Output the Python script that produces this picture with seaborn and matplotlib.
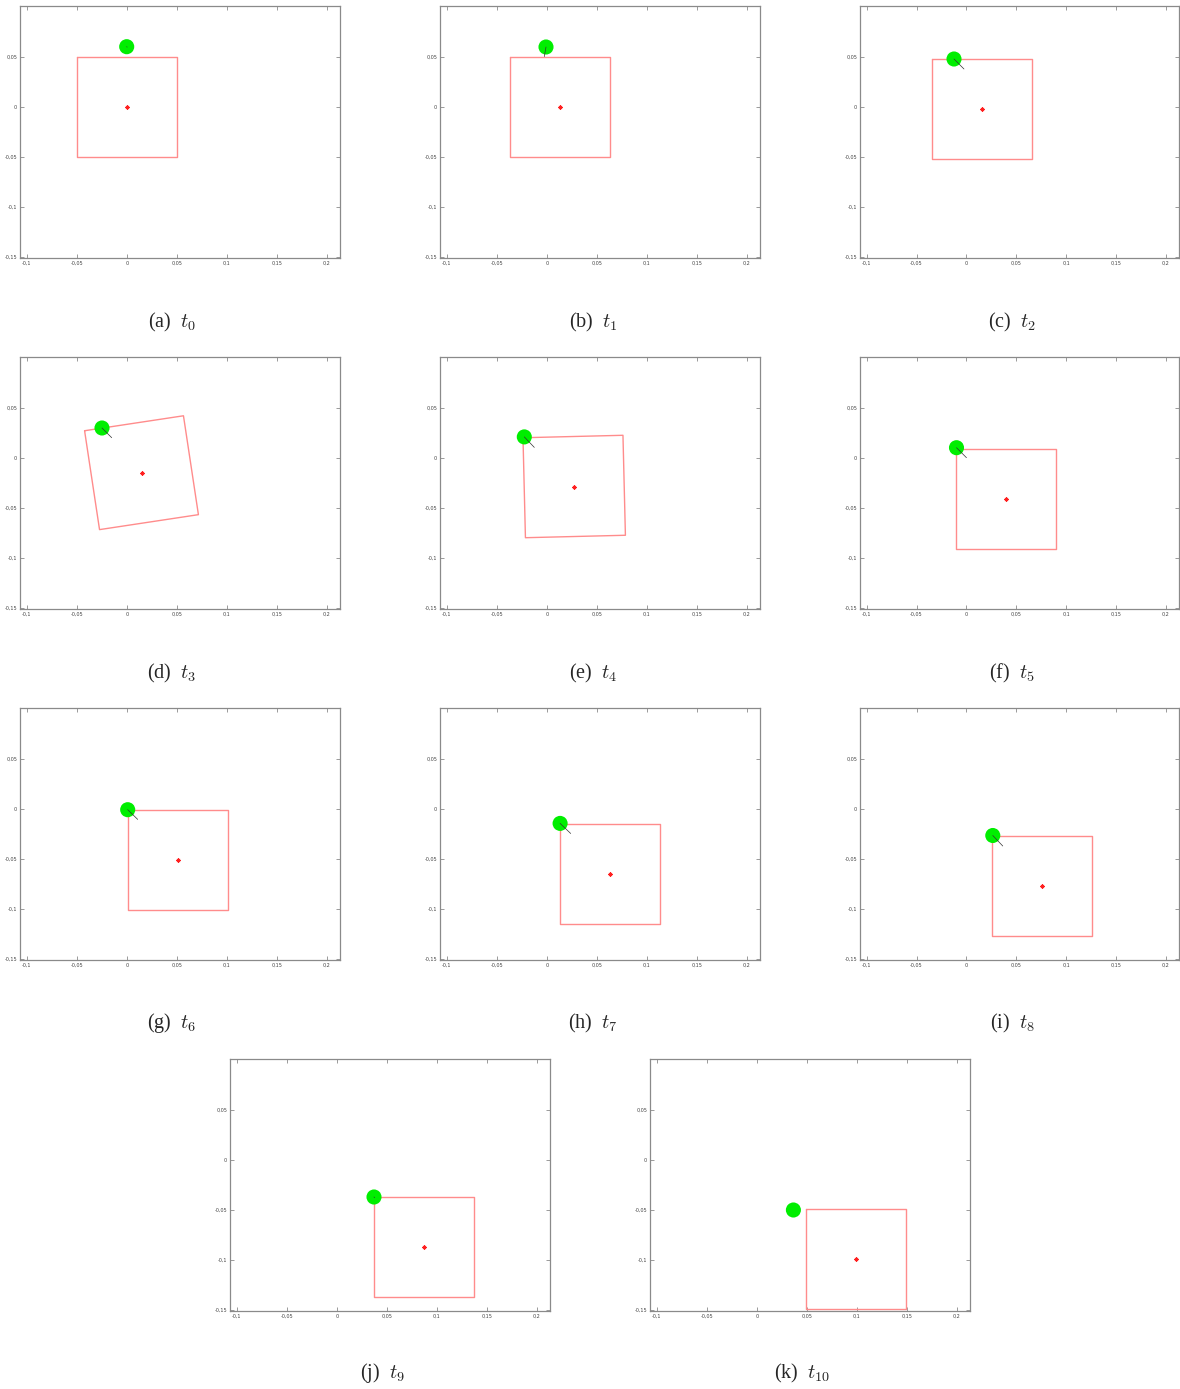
import numpy as np
import pandas as pd
import matplotlib
matplotlib.use("Agg")
import matplotlib.pyplot as plt
import seaborn as sns

# Snapshot data: square body pose, tracked contact point and its short direction segment
labels = ["a", "b", "c", "d", "e", "f", "g", "h", "i", "j", "k"]
center_x = [0.0, 0.0133, 0.0158, 0.0148, 0.0275, 0.0399, 0.0508, 0.0633, 0.0760, 0.0874, 0.0996]
center_y = [0.0, 0.0, -0.0027, -0.0150, -0.0288, -0.0410, -0.0510, -0.0652, -0.0775, -0.0873, -0.0995]
angle_deg = [0.0, 0.0, 0.0, 8.6, 1.4, 0.0, 0.0, 0.0, 0.0, 0.0, 0.0]
side_len = 0.1
point_x = [0.0, -0.0007, -0.0124, -0.0247, -0.0224, -0.0099, 0.0010, 0.0134, 0.0265, 0.0373, 0.0367]
point_y = [0.0600, 0.0597, 0.0477, 0.0297, 0.0208, 0.0100, -0.0010, -0.0147, -0.0268, -0.0373, -0.0503]
seg_dx = [0.0004, -0.0017, 0.0100, 0.0097, 0.0100, 0.0100, 0.0100, 0.0106, 0.0100, 0.0006, 0.0]
seg_dy = [-0.0004, -0.0096, -0.0100, -0.0097, -0.0105, -0.0100, -0.0097, -0.0101, -0.0105, -0.0006, 0.0]

x_ticks = [-0.1, -0.05, 0, 0.05, 0.1, 0.15, 0.2]
x_tick_labels = ["-0,1", "-0,05", "0", "0,05", "0,1", "0,15", "0,2"]
y_ticks = [-0.15, -0.1, -0.05, 0, 0.05]
y_tick_labels = ["-0,15", "-0,1", "-0,05", "0", "0,05"]

sns.set_theme(style="white")
plt.rcParams["mathtext.fontset"] = "cm"

W, H = 1180, 1389
fig = plt.figure(figsize=(W / 100, H / 100), dpi=100)
fig.patch.set_facecolor("white")

# panel boxes in pixels: left, top, width, height ; caption centre x, y
boxes = [
    (20, 6, 320, 252), (440, 6, 320, 252), (860, 6, 319, 252),
    (20, 357, 320, 252), (440, 357, 320, 252), (860, 357, 319, 252),
    (20, 708, 320, 252), (440, 708, 320, 252), (860, 708, 319, 252),
    (230, 1059, 320, 252), (650, 1059, 320, 252),
]
captions = [(172, 322), (593, 322), (1012, 322),
            (172, 673), (593, 673), (1012, 673),
            (172, 1023), (593, 1023), (1012, 1023),
            (382, 1373), (802, 1373)]

square_color = "#ff8c8c"
spine_color = "#8a8a8a"

for i, lab in enumerate(labels):
    l, t, w, h = boxes[i]
    ax = fig.add_axes([l / W, 1 - (t + h) / H, w / W, h / H])
    ax.set_facecolor("white")

    # square outline from pose
    th = np.deg2rad(angle_deg[i])
    hs = side_len / 2
    local = np.array([[-hs, hs], [hs, hs], [hs, -hs], [-hs, -hs], [-hs, hs]])
    rot = np.array([[np.cos(th), -np.sin(th)], [np.sin(th), np.cos(th)]])
    pts = local @ rot.T + np.array([center_x[i], center_y[i]])
    sq = pd.DataFrame({"x": pts[:, 0], "y": pts[:, 1]})
    sns.lineplot(data=sq, x="x", y="y", sort=False, estimator=None, ax=ax,
                 color=square_color, linewidth=1.0)

    # centre marker
    ax.plot([center_x[i]], [center_y[i]], linestyle="none", marker=(8, 2, 0),
            markersize=3.2, color="#ff2020", markeredgewidth=0.5, zorder=4)

    # contact point
    sns.scatterplot(x=[point_x[i]], y=[point_y[i]], ax=ax, color="#00ee00",
                    s=118, edgecolor="none", zorder=5)

    # direction segment
    ax.plot([point_x[i], point_x[i] + seg_dx[i]], [point_y[i], point_y[i] + seg_dy[i]],
            color="#333333", linewidth=0.5, zorder=6)

    ax.set_xlim(-0.1067, 0.2133)
    ax.set_ylim(-0.1513, 0.1007)
    ax.set_xticks(x_ticks)
    ax.set_xticklabels(x_tick_labels)
    ax.set_yticks(y_ticks)
    ax.set_yticklabels(y_tick_labels)
    ax.set_xlabel("")
    ax.set_ylabel("")
    ax.tick_params(direction="in", length=3, width=0.6, color=spine_color,
                   labelsize=3.5, labelcolor="#444444", pad=2,
                   top=True, right=True, bottom=True, left=True)
    for sp in ax.spines.values():
        sp.set_visible(True)
        sp.set_color(spine_color)
        sp.set_linewidth(0.9)

    cx, cy = captions[i]
    fig.text(cx / W, 1 - cy / H, f"({lab})  $t_{{{i}}}$", ha="center", va="center",
             fontsize=14.5, family="Liberation Serif")

fig.savefig("out.png", dpi=100, facecolor="white")
